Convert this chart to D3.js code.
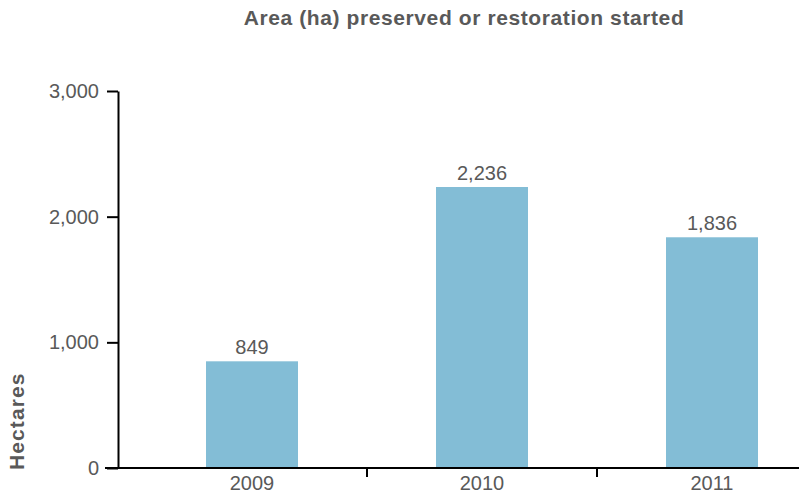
<!DOCTYPE html>
<html>
<head>
<meta charset="utf-8">
<script src="https://cdn.jsdelivr.net/npm/d3@7"></script>
<style>
  html, body { margin: 0; padding: 0; background: #fff; }
  svg { display: block; font-family: "Liberation Sans", Arial, Helvetica, sans-serif; }
</style>
</head>
<body>
<svg id="chart" width="799" height="496"></svg>
<script>
// Area preserved or with restoration started, by year
const years = ["2009", "2010", "2011"];
const hectares = [849, 2236, 1836];
const yTicks = [0, 1000, 2000, 3000];
const titleText = "Area (ha) preserved or restoration started";
const yTitle = "Hectares";

const svg = d3.select("#chart");
const textColor = "#595959";
const barColor = "#83bdd6";

const baseY = 468;
const axisX = 118;

const x = d3.scaleBand()
  .domain(years)
  .range([137, 827])
  .paddingInner(0.6)
  .paddingOuter(0.3);

const y = d3.scaleLinear()
  .domain([0, 3000])
  .range([baseY, 91]);

// Title
svg.append("text")
  .attr("x", 464)
  .attr("y", 25)
  .attr("text-anchor", "middle")
  .attr("font-size", 21)
  .attr("font-weight", "bold")
  .attr("letter-spacing", 0.6)
  .attr("fill", textColor)
  .text(titleText);

// Y axis title
svg.append("text")
  .attr("transform", `translate(24, 470) rotate(-90)`)
  .attr("text-anchor", "start")
  .attr("font-size", 21)
  .attr("font-weight", "bold")
  .attr("letter-spacing", 1.1)
  .attr("fill", textColor)
  .text(yTitle);

// Bars
svg.append("g")
  .selectAll("rect")
  .data(years)
  .join("rect")
  .attr("x", d => x(d))
  .attr("width", x.bandwidth())
  .attr("y", (d, i) => y(hectares[i]))
  .attr("height", (d, i) => y(0) - y(hectares[i]))
  .attr("fill", barColor);

// Value labels
svg.append("g")
  .selectAll("text")
  .data(years)
  .join("text")
  .attr("x", d => x(d) + x.bandwidth() / 2)
  .attr("y", (d, i) => y(hectares[i]) - 7)
  .attr("text-anchor", "middle")
  .attr("font-size", 20)
  .attr("fill", textColor)
  .text((d, i) => d3.format(",")(hectares[i]));

// Y axis
const yAxis = svg.append("g")
  .attr("transform", `translate(${axisX},0)`)
  .call(d3.axisLeft(y).tickValues(yTicks).tickFormat(d3.format(",")).tickSize(11).tickPadding(8).tickSizeOuter(0));
yAxis.select(".domain").attr("stroke", "#000").attr("stroke-width", 2);
yAxis.selectAll(".tick line").attr("stroke", "#000").attr("stroke-width", 2);
yAxis.selectAll(".tick text")
  .attr("font-size", 20)
  .attr("font-family", "Liberation Sans, Arial, sans-serif")
  .attr("fill", textColor);

// X axis baseline
svg.append("line")
  .attr("x1", 105)
  .attr("x2", 799)
  .attr("y1", baseY)
  .attr("y2", baseY)
  .attr("stroke", "#000")
  .attr("stroke-width", 2);

// Separator ticks between categories
const step = x.step();
svg.append("g")
  .selectAll("line")
  .data(years.slice(1))
  .join("line")
  .attr("x1", d => x(d) - step * x.paddingInner() / 2)
  .attr("x2", d => x(d) - step * x.paddingInner() / 2)
  .attr("y1", baseY)
  .attr("y2", baseY + 9)
  .attr("stroke", "#000")
  .attr("stroke-width", 2);

// Category labels
svg.append("g")
  .selectAll("text")
  .data(years)
  .join("text")
  .attr("x", d => x(d) + x.bandwidth() / 2)
  .attr("y", 490)
  .attr("text-anchor", "middle")
  .attr("font-size", 20)
  .attr("fill", textColor)
  .text(d => d);
</script>
</body>
</html>
